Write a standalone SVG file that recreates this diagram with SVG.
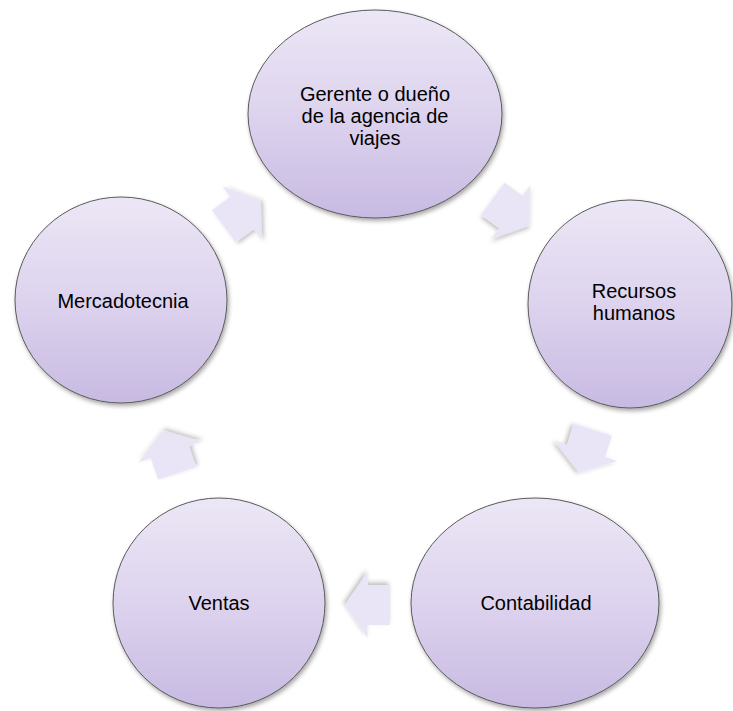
<svg xmlns="http://www.w3.org/2000/svg" width="733" height="711" viewBox="0 0 733 711">
  <defs>
    <linearGradient id="gNode" x1="0" y1="0" x2="0" y2="1">
      <stop offset="0" stop-color="#ECE7F6"/>
      <stop offset="0.5" stop-color="#DDD3EE"/>
      <stop offset="1" stop-color="#C8BAE2"/>
    </linearGradient>
    <linearGradient id="gArrow" x1="0" y1="0" x2="0" y2="1" gradientUnits="objectBoundingBox">
      <stop offset="0" stop-color="#F1EEFA"/>
      <stop offset="1" stop-color="#DDD5EF"/>
    </linearGradient>
    <filter id="shadow" x="-20%" y="-20%" width="140%" height="140%">
      <feDropShadow dx="1.5" dy="2.5" stdDeviation="2" flood-color="#000" flood-opacity="0.35"/>
    </filter>
    <filter id="ashadow" x="-30%" y="-30%" width="160%" height="160%">
      <feDropShadow dx="1.5" dy="2.5" stdDeviation="2" flood-color="#000" flood-opacity="0.25"/>
    </filter>
    <polygon id="arrow" points="-22.5,-20 0,-20 0,-33 22.5,0 0,33 0,20 -22.5,20"/>
  </defs>
  <style>
    .node { fill: url(#gNode); stroke: #5a5a5a; stroke-width: 1; filter: url(#shadow); }
    .arr { fill: #E9E4F6; filter: url(#ashadow); }
    text { font-family: "Liberation Sans", Arial, sans-serif; font-size: 20px; fill: #000; text-anchor: middle; }
  </style>

  <g id="connectors">
    <use href="#arrow" class="arr" transform="translate(242,213) rotate(-36)"/>
    <use href="#arrow" class="arr" transform="translate(511,212) rotate(36)"/>
    <use href="#arrow" class="arr" transform="translate(586,451) rotate(108)"/>
    <use href="#arrow" class="arr" transform="translate(367.5,605) rotate(180)"/>
    <use href="#arrow" class="arr" transform="translate(170,452) rotate(252)"/>
  </g>

  <g id="node-gerente">
    <ellipse class="node" cx="375" cy="114" rx="127" ry="104"/>
    <text x="375" y="101">Gerente o dueño</text>
    <text x="375" y="123">de la agencia de</text>
    <text x="375" y="145">viajes</text>
  </g>
  <g id="node-recursos">
    <ellipse class="node" cx="630" cy="304" rx="102" ry="104"/>
    <text x="634" y="298">Recursos</text>
    <text x="634" y="320">humanos</text>
  </g>
  <g id="node-contabilidad">
    <ellipse class="node" cx="535" cy="603" rx="124" ry="105"/>
    <text x="536" y="610">Contabilidad</text>
  </g>
  <g id="node-ventas">
    <ellipse class="node" cx="219" cy="603" rx="106" ry="105"/>
    <text x="219" y="610">Ventas</text>
  </g>
  <g id="node-mercadotecnia">
    <ellipse class="node" cx="121" cy="300" rx="106" ry="103"/>
    <text x="123" y="308">Mercadotecnia</text>
  </g>
</svg>
